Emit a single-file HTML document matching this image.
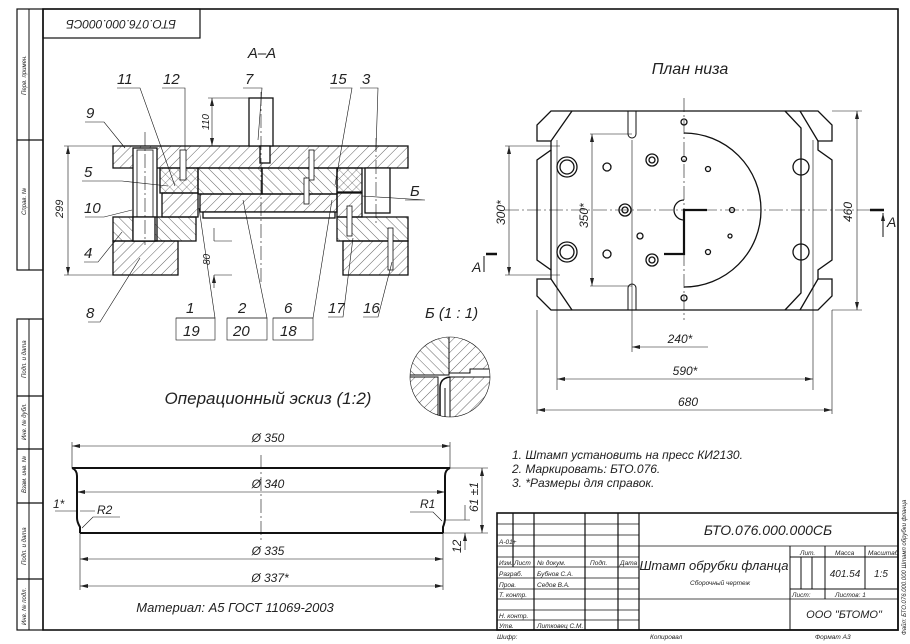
<!DOCTYPE html>
<html><head><meta charset="utf-8"><style>
html,body{margin:0;padding:0;background:#fff;}
svg{display:block;}
text{font-family:"Liberation Sans",sans-serif;font-style:italic;fill:#222;}
</style></head><body>
<svg width="910" height="644" viewBox="0 0 910 644" xmlns="http://www.w3.org/2000/svg">
<defs>
<pattern id="h1" width="7" height="7" patternUnits="userSpaceOnUse" patternTransform="rotate(45)"><line x1="0" y1="0" x2="0" y2="7" stroke="#222" stroke-width="0.7"/></pattern>
<pattern id="h2" width="7" height="7" patternUnits="userSpaceOnUse" patternTransform="rotate(-45)"><line x1="0" y1="0" x2="0" y2="7" stroke="#222" stroke-width="0.7"/></pattern>
<pattern id="hx" width="6" height="6" patternUnits="userSpaceOnUse" patternTransform="rotate(45)"><path d="M0 0V6M0 0H6" stroke="#222" stroke-width="0.6"/></pattern>
<marker id="ar" markerWidth="8" markerHeight="6" refX="8" refY="3" orient="auto-start-reverse" markerUnits="userSpaceOnUse"><path d="M0 1L8 3L0 5z" fill="#222"/></marker>
</defs>
<g fill="none" stroke="#111">
<rect x="43" y="9" width="855" height="621" stroke-width="1.6"/>
<rect x="43" y="9" width="157" height="29" stroke-width="1.2"/>
<rect x="17" y="9" width="26" height="261" stroke-width="1.2"/>
<line x1="29" y1="9" x2="29" y2="270" stroke-width="1"/>
<line x1="17" y1="140" x2="43" y2="140" stroke-width="1.2"/>
<rect x="17" y="319" width="26" height="311" stroke-width="1.2"/>
<line x1="29" y1="319" x2="29" y2="630"/>
<path d="M17 396H43M17 449H43M17 503H43M17 579H43" stroke-width="1.2"/>
</g>
<g font-size="6">
<text transform="translate(26,95) rotate(-90)">Перв. примен.</text>
<text transform="translate(26,215) rotate(-90)">Справ. №</text>
<text transform="translate(26,378) rotate(-90)">Подп. и дата</text>
<text transform="translate(26,440) rotate(-90)">Инв. № дубл.</text>
<text transform="translate(26,493) rotate(-90)">Взам. инв. №</text>
<text transform="translate(26,565) rotate(-90)">Подп. и дата</text>
<text transform="translate(26,625) rotate(-90)">Инв. № подл.</text>
</g>
<text transform="translate(121,20) rotate(180)" font-size="12" text-anchor="middle">БТО.076.000.000СБ</text>

<text x="262" y="58" font-size="15" text-anchor="middle">А–А</text>
<g stroke="#111" stroke-width="1.3">
<rect x="113" y="146" width="295" height="22" fill="url(#h1)"/>
<rect x="249" y="98" width="24" height="48" fill="#fff"/>
<rect x="260" y="146" width="10" height="17" fill="#fff"/>
<rect x="133" y="148" width="24" height="93" fill="#fff"/>
<rect x="137" y="150" width="16" height="91" fill="#fff" stroke-width="0.8"/>
<rect x="160" y="168" width="38" height="25" fill="url(#hx)"/>
<rect x="198" y="168" width="64" height="26" fill="url(#h2)"/>
<rect x="262" y="168" width="75" height="26" fill="url(#h2)"/>
<rect x="337" y="168" width="25" height="24" fill="url(#hx)"/>
<rect x="365" y="168" width="25" height="45" fill="#fff"/>
<rect x="162" y="193" width="36" height="24" fill="url(#h1)"/>
<rect x="200" y="194" width="137" height="18" fill="url(#h1)"/>
<rect x="203" y="212" width="132" height="6" fill="#fff"/>
<rect x="337" y="193" width="25" height="24" fill="url(#h1)"/>
<rect x="113" y="217" width="83" height="24" fill="url(#h2)"/>
<rect x="337" y="217" width="71" height="24" fill="url(#h2)"/>
<rect x="113" y="241" width="65" height="34" fill="url(#h1)"/>
<rect x="343" y="241" width="65" height="34" fill="url(#h1)"/>
<rect x="133" y="217" width="22" height="24" fill="#fff"/>
<rect x="180" y="150" width="6" height="30" fill="#fff" stroke-width="0.8"/>
<rect x="309" y="150" width="5" height="30" fill="#fff" stroke-width="0.8"/>
<rect x="304" y="178" width="5" height="26" fill="#fff" stroke-width="0.8"/>
<rect x="347" y="206" width="5" height="30" fill="#fff" stroke-width="0.8"/>
<rect x="388" y="228" width="5" height="42" fill="#fff" stroke-width="0.8"/>
</g>
<g stroke="#111" stroke-width="0.6" fill="none">
<path d="M261 92V282" stroke-dasharray="14 3 2 3"/>
<path d="M145 132V245M376 138V225" stroke-dasharray="14 3 2 3"/>
<path d="M113 146H64M113 275H64M249 98H208M214 241H232M214 275H232"/>
<path d="M68 146V275" marker-start="url(#ar)" marker-end="url(#ar)"/>
<path d="M212 98V146" marker-start="url(#ar)" marker-end="url(#ar)"/>
<path d="M214 228V241M214 288V275" marker-end="url(#ar)"/>
<path d="M117 88H140L175 186M162 88H185L185 150M243 88H262L258 140M330 88H352L335 185M360 88H378L376 150M85 122H104L125 148M82 181H122L168 186M85 217H104L132 210M84 262H98L122 232M88 322H100L140 258"/>
<path d="M176 318H215L199 208M227 318H267L243 200M273 318H313L332 200M328 317H343L353 238M363 317H378L392 262M405 200H425L362 196"/>
<rect x="176" y="318" width="39" height="22"/><rect x="227" y="318" width="40" height="22"/><rect x="273" y="318" width="40" height="22"/>
</g>
<g font-size="15">
<text x="117" y="84">11</text><text x="163" y="84">12</text><text x="245" y="84">7</text><text x="330" y="84">15</text><text x="362" y="84">3</text>
<text x="86" y="118">9</text><text x="84" y="177">5</text><text x="84" y="213">10</text><text x="84" y="258">4</text><text x="86" y="318">8</text>
<text x="186" y="313">1</text><text x="238" y="313">2</text><text x="284" y="313">6</text><text x="328" y="313">17</text><text x="363" y="313">16</text>
<text x="183" y="336">19</text><text x="233" y="336">20</text><text x="280" y="336">18</text>
<text x="410" y="196">Б</text>
</g>
<text transform="translate(63,218) rotate(-90)" font-size="11">299</text>
<text transform="translate(209,130) rotate(-90)" font-size="10">110</text>
<text transform="translate(210,265) rotate(-90)" font-size="10">80</text>

<text x="425" y="318" font-size="15">Б (1 : 1)</text>
<g stroke="#111">
<clipPath id="cc"><circle cx="450" cy="377" r="40"/></clipPath>
<g clip-path="url(#cc)" stroke-width="1">
<rect x="405" y="335" width="44" height="40" fill="url(#h2)"/>
<path d="M449 335V373H470V369H495V335Z" fill="url(#h1)"/>
<rect x="405" y="377" width="33" height="45" fill="url(#h1)"/>
<path d="M450 377H495V422H450Z" fill="url(#h1)"/>
<path d="M440 418V388Q440 378 450 377" fill="none" stroke-width="1.5"/>
<path d="M445 418V388" fill="none"/>
</g>
<circle cx="450" cy="377" r="40" fill="none" stroke-width="0.6"/>
</g>

<text x="690" y="74" font-size="16" text-anchor="middle">План низа</text>
<g stroke="#111" stroke-width="1.3" fill="none">
<path d="M551 111H818L832 125V141H818V150L832 160V260L818 270V279H832V296L818 310H551L537 296V279H551V270L537 260V160L551 150V141H537V125Z"/>
<path d="M572 111L551 141M572 310L551 279M785 111L801 128V293L785 310M800 111L818 141M800 310L818 279M551 150V270"/>
<circle cx="567" cy="167" r="10"/><circle cx="567" cy="167" r="7"/>
<circle cx="567" cy="252" r="10"/><circle cx="567" cy="252" r="7"/>
<circle cx="801" cy="167" r="8"/><circle cx="801" cy="252" r="8"/>
<circle cx="652" cy="160" r="6"/><circle cx="652" cy="160" r="3"/>
<circle cx="625" cy="210" r="6"/><circle cx="625" cy="210" r="3"/>
<circle cx="652" cy="260" r="6"/><circle cx="652" cy="260" r="3"/>
<circle cx="607" cy="167" r="4"/><circle cx="607" cy="254" r="4"/><circle cx="640" cy="236" r="3"/>
<circle cx="684" cy="159" r="2.5"/><circle cx="708" cy="169" r="2.5"/><circle cx="732" cy="210" r="2.5"/><circle cx="730" cy="236" r="2"/><circle cx="708" cy="252" r="2.5"/>
<circle cx="684" cy="122" r="3"/><circle cx="684" cy="298" r="3"/>
<path d="M684 133A77 77 0 0 1 684 287"/>
<path d="M684 200A10 10 0 0 0 684 220"/>
<path d="M707 210H684V254H664" stroke-width="2.2"/>
<path d="M628 111V134A4 4 0 0 0 636 134V111M628 310V288A4 4 0 0 1 636 288V310" stroke-width="1"/>
</g>
<g stroke="#111" stroke-width="0.6" fill="none">
<path d="M505 210H880M684 98V320" stroke-dasharray="14 3 2 3"/>
<path d="M557 140V390M813 140V390M632 140V352M537 310V414M832 310V414"/>
<path d="M505 146H560M505 275H560M590 134H632M590 286H632M832 111H862M832 310H862"/>
<path d="M509 146V275" marker-start="url(#ar)" marker-end="url(#ar)"/>
<path d="M592 134V286" marker-start="url(#ar)" marker-end="url(#ar)"/>
<path d="M857 111V310" marker-start="url(#ar)" marker-end="url(#ar)"/>
<path d="M632 347H708" marker-start="url(#ar)"/>
<path d="M557 379H813" marker-start="url(#ar)" marker-end="url(#ar)"/>
<path d="M537 410H832" marker-start="url(#ar)" marker-end="url(#ar)"/>
<path d="M484 272V256M883 237V213" marker-end="url(#ar)" stroke-width="1"/>
</g>
<path d="M486 254H497M870 210H884" stroke="#111" stroke-width="2.5"/>
<text x="472" y="272" font-size="14">А</text><text x="887" y="227" font-size="14">А</text>
<text transform="translate(505,225) rotate(-90)" font-size="12">300*</text>
<text transform="translate(588,228) rotate(-90)" font-size="12">350*</text>
<text transform="translate(852,222) rotate(-90)" font-size="12">460</text>
<text x="680" y="343" font-size="12" text-anchor="middle">240*</text>
<text x="685" y="375" font-size="12" text-anchor="middle">590*</text>
<text x="688" y="406" font-size="12" text-anchor="middle">680</text>

<text x="268" y="404" font-size="17" text-anchor="middle">Операционный эскиз (1:2)</text>
<g stroke="#111" fill="none">
<path d="M72 468H450M80 533H443" stroke-width="2"/>
<path d="M72 468Q77 470 77 476V518Q77 522 80 527V533M450 468Q445 470 445 476V518Q445 522 443 527V533" stroke-width="2"/>
</g>
<g stroke="#111" stroke-width="0.6" fill="none">
<path d="M261 455V542" stroke-dasharray="14 3 2 3"/>
<path d="M72 468V442M450 468V442M80 533V590M443 533V590M450 468H488M443 533H488M445 520H470"/>
<path d="M72 446H450" marker-start="url(#ar)" marker-end="url(#ar)"/>
<path d="M77 492H445" marker-start="url(#ar)" marker-end="url(#ar)"/>
<path d="M80 559H443" marker-start="url(#ar)" marker-end="url(#ar)"/>
<path d="M80 586H443" marker-start="url(#ar)" marker-end="url(#ar)"/>
<path d="M482 468V533" marker-start="url(#ar)" marker-end="url(#ar)"/>
<path d="M465 505V520M465 550V533" marker-end="url(#ar)"/>
<path d="M55 511H77M95 511H80M120 517H93L82 528M410 512H433L442 521"/>
</g>
<g font-size="12">
<text x="268" y="442" text-anchor="middle">Ø 350</text>
<text x="268" y="488" text-anchor="middle">Ø 340</text>
<text x="268" y="555" text-anchor="middle">Ø 335</text>
<text x="270" y="582" text-anchor="middle">Ø 337*</text>
<text x="53" y="508">1*</text><text x="97" y="514">R2</text><text x="420" y="508">R1</text>
<text transform="translate(478,512) rotate(-90)">61 ±1</text>
<text transform="translate(461,553) rotate(-90)">12</text>
<text x="235" y="612" font-size="13" text-anchor="middle">Материал: А5 ГОСТ 11069-2003</text>
</g>

<g font-size="12">
<text x="512" y="459">1.  Штамп установить на пресс КИ2130.</text>
<text x="512" y="473">2.  Маркировать: БТО.076.</text>
<text x="512" y="487">3.  *Размеры для справок.</text>
</g>

<g stroke="#111" fill="none">
<rect x="497" y="513" width="401" height="117" stroke-width="1.6"/>
<path d="M497 524H639M497 535H639M497 546H898M497 557H639M497 567H639M497 578H639M497 589H639M497 599H898M497 610H639M497 620H639" stroke-width="0.8"/>
<path d="M513 513V567M534 513V630M585 513V630M618 513V630M639 513V630" stroke-width="1.2"/>
<path d="M790 546V630M825 546V599M865 546V589M790 557H898M790 589H898M801 557V589M812 557V589" stroke-width="1"/>
</g>
<g font-size="6.5">
<text x="499" y="544">А-01+</text>
<text x="499" y="565">Изм.</text><text x="514" y="565">Лист</text><text x="537" y="565">№ докум.</text><text x="590" y="565">Подп.</text><text x="620" y="565">Дата</text>
<text x="499" y="576">Разраб.</text><text x="537" y="576">Бубнов С.А.</text>
<text x="499" y="587">Пров.</text><text x="537" y="587">Седов В.А.</text>
<text x="499" y="597">Т. контр.</text>
<text x="499" y="618">Н. контр.</text>
<text x="499" y="628">Утв.</text><text x="537" y="628">Литковец С.М.</text>
<text x="497" y="639">Шифр:</text><text x="650" y="639">Копировал</text><text x="815" y="639">Формат А3</text>
<text x="800" y="555">Лит.</text><text x="835" y="555">Масса</text><text x="868" y="555">Масштаб</text>
<text x="792" y="597">Лист:</text><text x="835" y="597">Листов: 1</text>
<text x="690" y="585">Сборочный чертеж</text>
</g>
<text x="768" y="535" font-size="14" text-anchor="middle">БТО.076.000.000СБ</text>
<text x="714" y="570" font-size="13" text-anchor="middle">Штамп обрубки фланца</text>
<text x="845" y="577" font-size="10" text-anchor="middle">401.54</text>
<text x="881" y="577" font-size="10" text-anchor="middle">1:5</text>
<text x="844" y="618" font-size="11" text-anchor="middle">ООО "БТОМО"</text>
<text transform="translate(906,635) rotate(-90)" font-size="6">Файл: БТО.076.000.000 Штамп обрубки фланца</text>
</svg>
</body></html>
